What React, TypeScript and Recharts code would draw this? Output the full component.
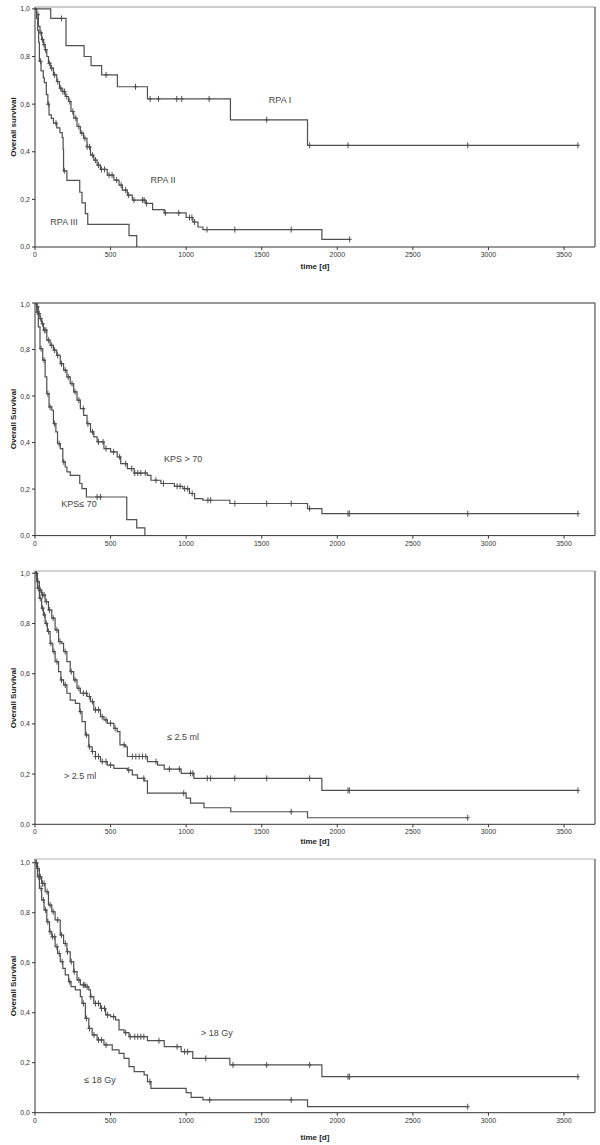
import React from 'react';
import { ComposedChart, Line, Scatter, XAxis, YAxis, ReferenceLine, ReferenceDot } from 'recharts';

// ---------- axis ticks ----------
const TIME_TICKS = [0, 500, 1000, 1500, 2000, 2500, 3000, 3500];
const SURV_TICKS = [0, 0.2, 0.4, 0.6, 0.8, 1.0];
const X_MAX = 3705;

// ---------- Panel 1: RPA ----------
const rpa1Time = [0, 104, 205, 325, 371, 441, 545, 744, 1293, 1803, 3592];
const rpa1Surv = [1.0, 0.96, 0.846, 0.8, 0.762, 0.723, 0.673, 0.622, 0.534, 0.427, 0.427];
const rpa1Cens = [175, 470, 665, 762, 817, 938, 971, 1152, 1533, 1817, 2071, 2863, 3592];

const rpa2Time = [0, 11, 22, 33, 44, 56, 67, 78, 89, 104, 122, 144, 162, 178, 200, 222, 238, 256, 278, 300, 322, 344, 367, 389, 411, 433, 478, 522, 556, 578, 611, 644, 733, 778, 855, 1000, 1044, 1078, 1111, 1898, 2082];
const rpa2Surv = [1.0, 0.976, 0.927, 0.899, 0.871, 0.85, 0.829, 0.8, 0.772, 0.751, 0.723, 0.695, 0.667, 0.653, 0.632, 0.611, 0.569, 0.541, 0.506, 0.478, 0.456, 0.421, 0.386, 0.365, 0.344, 0.326, 0.302, 0.281, 0.26, 0.239, 0.218, 0.197, 0.183, 0.157, 0.143, 0.124, 0.105, 0.084, 0.073, 0.032, 0.032];
const rpa2Cens = [20, 40, 50, 60, 70, 95, 110, 130, 150, 170, 185, 195, 210, 230, 250, 270, 290, 310, 330, 345, 360, 380, 400, 420, 440, 460, 490, 510, 540, 570, 600, 620, 655, 711, 722, 738, 862, 951, 1022, 1038, 1055, 1138, 1322, 1695, 2082];

const rpa3Time = [0, 10, 18, 24, 29, 40, 55, 62, 75, 85, 93, 108, 122, 144, 165, 180, 186, 189, 211, 296, 311, 333, 349, 622, 673];
const rpa3Surv = [1.0, 0.96, 0.91, 0.86, 0.78, 0.74, 0.71, 0.69, 0.64, 0.6, 0.555, 0.54, 0.52, 0.5, 0.48, 0.46, 0.41, 0.32, 0.28, 0.23, 0.185, 0.14, 0.095, 0.048, 0];
const rpa3Cens = [37, 88, 139, 194];

// ---------- Panel 2: KPS ----------
const kpsLowTime = [0, 11, 22, 33, 51, 67, 78, 93, 111, 122, 138, 149, 167, 184, 200, 211, 233, 296, 311, 340, 607, 673, 727];
const kpsLowSurv = [1.0, 0.961, 0.897, 0.804, 0.754, 0.682, 0.61, 0.553, 0.539, 0.481, 0.446, 0.395, 0.374, 0.317, 0.295, 0.274, 0.259, 0.224, 0.202, 0.166, 0.069, 0.033, 0];
const kpsLowCens = [15, 40, 60, 85, 100, 130, 160, 190, 411, 433];

const kpsHighTime = [0, 11, 22, 33, 44, 56, 78, 100, 122, 144, 167, 189, 211, 233, 256, 278, 300, 322, 344, 367, 389, 411, 456, 500, 544, 567, 611, 656, 744, 767, 833, 922, 978, 1022, 1056, 1111, 1289, 1803, 1898, 3592];
const kpsHighSurv = [1.0, 0.983, 0.954, 0.933, 0.911, 0.883, 0.84, 0.818, 0.797, 0.775, 0.739, 0.711, 0.682, 0.653, 0.618, 0.582, 0.546, 0.517, 0.481, 0.446, 0.424, 0.403, 0.374, 0.36, 0.338, 0.309, 0.288, 0.269, 0.259, 0.238, 0.224, 0.212, 0.202, 0.181, 0.159, 0.152, 0.138, 0.116, 0.0945, 0.0945];
const kpsHighCens = [8, 18, 28, 38, 50, 62, 72, 90, 110, 130, 150, 175, 200, 220, 245, 265, 290, 320, 350, 380, 420, 450, 470, 520, 560, 600, 640, 660, 680, 700, 730, 800, 850, 940, 960, 990, 1010, 1040, 1144, 1162, 1322, 1533, 1695, 1817, 2071, 2080, 2863, 3592];

// ---------- Panel 3: volume ----------
const volLowTime = [0, 11, 29, 44, 67, 89, 111, 133, 156, 178, 189, 211, 233, 256, 278, 300, 344, 367, 389, 433, 456, 478, 522, 544, 562, 600, 611, 744, 811, 855, 967, 1051, 1898, 3592];
const volLowSurv = [1.0, 0.967, 0.933, 0.914, 0.887, 0.854, 0.821, 0.774, 0.728, 0.721, 0.688, 0.648, 0.608, 0.575, 0.542, 0.522, 0.509, 0.489, 0.456, 0.429, 0.416, 0.402, 0.382, 0.369, 0.316, 0.309, 0.27, 0.25, 0.236, 0.22, 0.203, 0.183, 0.135, 0.135];
const volLowCens = [8, 20, 35, 50, 60, 75, 95, 120, 145, 165, 200, 240, 265, 290, 320, 340, 360, 380, 400, 420, 445, 470, 500, 530, 590, 644, 667, 689, 711, 733, 800, 889, 955, 1029, 1044, 1140, 1162, 1322, 1533, 1817, 2071, 2080, 3592];

const volHighTime = [0, 16, 29, 44, 56, 67, 82, 100, 118, 133, 156, 171, 189, 211, 233, 267, 296, 311, 333, 356, 378, 400, 433, 478, 522, 611, 644, 678, 722, 744, 1000, 1029, 1118, 1295, 1803, 2863];
const volHighSurv = [1.0, 0.94, 0.9, 0.861, 0.834, 0.8, 0.768, 0.721, 0.688, 0.648, 0.608, 0.575, 0.555, 0.522, 0.495, 0.482, 0.449, 0.409, 0.356, 0.309, 0.29, 0.27, 0.25, 0.236, 0.223, 0.216, 0.197, 0.183, 0.173, 0.124, 0.104, 0.084, 0.066, 0.05, 0.026, 0.026];
const volHighCens = [10, 22, 35, 50, 62, 75, 90, 105, 125, 145, 175, 200, 300, 340, 360, 380, 400, 420, 445, 470, 500, 620, 720, 984, 1695, 2863];

// ---------- Panel 4: dose ----------
const doseHighTime = [0, 11, 29, 44, 67, 89, 111, 133, 167, 189, 211, 233, 256, 278, 300, 333, 356, 367, 389, 433, 467, 500, 533, 556, 589, 622, 744, 855, 967, 1044, 1289, 1898, 3592];
const doseHighSurv = [1.0, 0.977, 0.944, 0.917, 0.884, 0.831, 0.804, 0.771, 0.711, 0.677, 0.644, 0.604, 0.564, 0.531, 0.511, 0.504, 0.491, 0.464, 0.437, 0.417, 0.391, 0.384, 0.371, 0.331, 0.32, 0.304, 0.288, 0.264, 0.244, 0.217, 0.191, 0.144, 0.144];
const doseHighCens = [8, 20, 35, 50, 60, 80, 100, 120, 150, 175, 200, 215, 240, 260, 290, 320, 330, 345, 370, 400, 420, 440, 460, 480, 520, 600, 630, 660, 680, 700, 720, 820, 940, 990, 1010, 1130, 1310, 1533, 1817, 2071, 2080, 3592];

const doseLowTime = [0, 16, 29, 44, 60, 78, 96, 111, 133, 149, 167, 184, 200, 222, 238, 267, 300, 311, 333, 356, 378, 411, 456, 511, 556, 589, 622, 656, 722, 744, 767, 1000, 1033, 1111, 1803, 2863];
const doseLowSurv = [1.0, 0.944, 0.897, 0.851, 0.811, 0.764, 0.724, 0.704, 0.664, 0.637, 0.604, 0.577, 0.551, 0.524, 0.504, 0.491, 0.464, 0.437, 0.377, 0.337, 0.311, 0.291, 0.271, 0.251, 0.237, 0.217, 0.184, 0.164, 0.151, 0.124, 0.097, 0.08, 0.061, 0.051, 0.024, 0.024];
const doseLowCens = [10, 25, 40, 55, 70, 85, 100, 115, 130, 145, 160, 180, 230, 320, 340, 360, 390, 420, 440, 470, 760, 1156, 1695, 2863];

// ---------- helpers ----------
type Pt = { t: number; s: number };
const toCurve = (times: number[], surv: number[]): Pt[] => times.map((t, i) => ({ t, s: surv[i] }));
const toCensor = (times: number[], surv: number[], cens: number[]): Pt[] =>
  cens.map((c) => {
    let idx = 0;
    for (let k = 0; k < times.length; k++) if (times[k] <= c) idx = k;
    return { t: c, s: surv[idx] };
  });

const LINE = '#4f4f4f';
const FONT = '"Liberation Sans", Arial, sans-serif';

const CensorMark = (props: any) => {
  const { cx, cy } = props;
  if (cx == null || cy == null) return null;
  return (
    <path
      d={`M${cx - 2},${cy} H${cx + 2} M${cx},${cy - 3} V${cy + 3}`}
      stroke={LINE}
      strokeWidth={1}
      fill="none"
    />
  );
};

type Series = { key: string; curve: Pt[]; cens: Pt[] };
type Lbl = { x: number; y: number; text: string };

function Panel(props: {
  top: number;
  plotH: number;
  yMax: number;
  xAxisH: number;
  yLabel: string;
  showTime: boolean;
  topStroke: string;
  topWidth: number;
  series: Series[];
  labels: Lbl[];
}) {
  const { top, plotH, yMax, xAxisH, yLabel, showTime, topStroke, topWidth, series, labels } = props;
  const mTop = 2;
  const height = mTop + plotH + xAxisH;
  return (
    <div style={{ position: 'absolute', left: 0, top, width: 600, height }}>
      <ComposedChart
        width={600}
        height={height}
        margin={{ top: mTop, right: 5, bottom: 0, left: 0 }}
        style={{ fontFamily: FONT }}
      >
        <XAxis
          dataKey="t"
          type="number"
          domain={[0, X_MAX]}
          ticks={TIME_TICKS}
          allowDataOverflow
          height={xAxisH}
          tick={{ fontSize: 7, fill: '#333' }}
          tickSize={3}
          stroke="#333"
          label={
            showTime
              ? { value: 'time [d]', position: 'insideBottom', offset: 4, fontSize: 8, fontWeight: 'bold', fill: '#222' }
              : undefined
          }
        />
        <YAxis
          dataKey="s"
          type="number"
          domain={[0, yMax]}
          ticks={SURV_TICKS}
          allowDataOverflow
          width={35}
          tick={{ fontSize: 7, fill: '#333' }}
          tickSize={3}
          stroke="#333"
          tickFormatter={(v: number) => v.toFixed(1).replace('.', ',')}
        />
        <ReferenceLine y={yMax} stroke={topStroke} strokeWidth={topWidth} />
        <ReferenceLine x={X_MAX} stroke="#333" strokeWidth={1} />
        {series.map((s) => (
          <Line
            key={s.key + '-line'}
            data={s.curve}
            dataKey="s"
            type="stepAfter"
            dot={false}
            activeDot={false}
            stroke={LINE}
            strokeWidth={1.2}
            isAnimationActive={false}
          />
        ))}
        {series.map((s) => (
          <Scatter
            key={s.key + '-cens'}
            data={s.cens}
            dataKey="s"
            shape={CensorMark}
            isAnimationActive={false}
          />
        ))}
        {labels.map((l) => (
          <ReferenceDot
            key={l.text}
            x={l.x}
            y={l.y}
            r={0}
            fill="none"
            stroke="none"
            label={{ value: l.text, position: 'center', fontSize: 9, fill: '#444' }}
          />
        ))}
      </ComposedChart>
      <div
        style={{
          position: 'absolute',
          left: 13,
          top: mTop + plotH / 2,
          transform: 'translate(-50%, -50%) rotate(-90deg)',
          whiteSpace: 'nowrap',
          fontSize: 8,
          fontWeight: 'bold',
          fontFamily: FONT,
          color: '#222',
        }}
      >
        {yLabel}
      </div>
    </div>
  );
}

export default function App() {
  return (
    <div style={{ position: 'absolute', left: 0, top: 0, width: 600, height: 1145, background: '#fff' }}>
      <Panel
        top={5}
        plotH={240}
        yMax={1.008}
        xAxisH={26}
        yLabel="Overall survival"
        showTime
        topStroke="#999"
        topWidth={1.2}
        series={[
          { key: 'rpa1', curve: toCurve(rpa1Time, rpa1Surv), cens: toCensor(rpa1Time, rpa1Surv, rpa1Cens) },
          { key: 'rpa2', curve: toCurve(rpa2Time, rpa2Surv), cens: toCensor(rpa2Time, rpa2Surv, rpa2Cens) },
          { key: 'rpa3', curve: toCurve(rpa3Time, rpa3Surv), cens: toCensor(rpa3Time, rpa3Surv, rpa3Cens) },
        ]}
        labels={[
          { x: 1621, y: 0.618, text: 'RPA I' },
          { x: 847, y: 0.282, text: 'RPA II' },
          { x: 192, y: 0.105, text: 'RPA III' },
        ]}
      />
      <Panel
        top={300.7}
        plotH={232.6}
        yMax={1.0}
        xAxisH={20}
        yLabel="Overall Survival"
        showTime={false}
        topStroke="#999"
        topWidth={2}
        series={[
          { key: 'kpsH', curve: toCurve(kpsHighTime, kpsHighSurv), cens: toCensor(kpsHighTime, kpsHighSurv, kpsHighCens) },
          { key: 'kpsL', curve: toCurve(kpsLowTime, kpsLowSurv), cens: toCensor(kpsLowTime, kpsLowSurv, kpsLowCens) },
        ]}
        labels={[
          { x: 980, y: 0.332, text: 'KPS > 70' },
          { x: 291, y: 0.135, text: 'KPS\u2264 70' },
        ]}
      />
      <Panel
        top={569}
        plotH={253.3}
        yMax={1.009}
        xAxisH={24}
        yLabel="Overall Survival"
        showTime
        topStroke="#aaa"
        topWidth={1}
        series={[
          { key: 'volL', curve: toCurve(volLowTime, volLowSurv), cens: toCensor(volLowTime, volLowSurv, volLowCens) },
          { key: 'volH', curve: toCurve(volHighTime, volHighSurv), cens: toCensor(volHighTime, volHighSurv, volHighCens) },
        ]}
        labels={[
          { x: 980, y: 0.348, text: '\u2264 2.5 ml' },
          { x: 298, y: 0.192, text: '> 2.5 ml' },
        ]}
      />
      <Panel
        top={857}
        plotH={253.7}
        yMax={1.015}
        xAxisH={31}
        yLabel="Overall Survival"
        showTime
        topStroke="#ccc"
        topWidth={1.5}
        series={[
          { key: 'doseH', curve: toCurve(doseHighTime, doseHighSurv), cens: toCensor(doseHighTime, doseHighSurv, doseHighCens) },
          { key: 'doseL', curve: toCurve(doseLowTime, doseLowSurv), cens: toCensor(doseLowTime, doseLowSurv, doseLowCens) },
        ]}
        labels={[
          { x: 1204, y: 0.319, text: '> 18 Gy' },
          { x: 430, y: 0.131, text: '\u2264 18 Gy' },
        ]}
      />
    </div>
  );
}
